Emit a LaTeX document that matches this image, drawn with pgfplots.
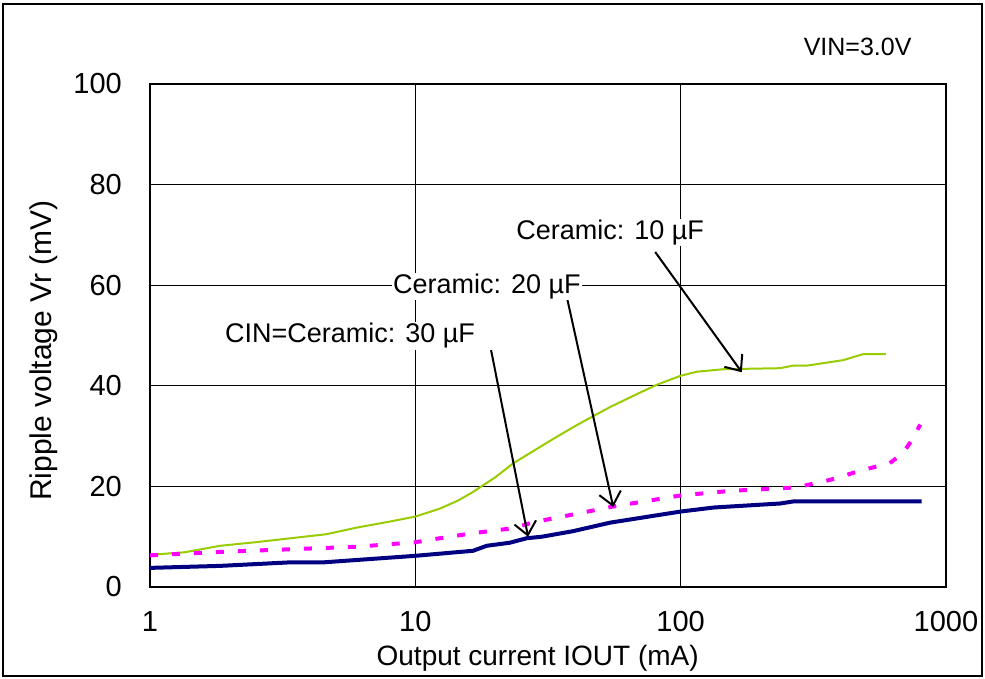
\documentclass[border=0pt]{standalone}
\usepackage{fontspec}
\setmainfont{Liberation Sans}
\usepackage{pgfplots}
\pgfplotsset{compat=1.18}
\usetikzlibrary{arrows.meta}
\definecolor{ygreen}{RGB}{153,204,0}
\definecolor{navyc}{RGB}{0,0,128}
\definecolor{magc}{RGB}{255,0,255}
\begin{document}
\begin{tikzpicture}
\useasboundingbox (-150pt,-91pt) rectangle (835pt,587pt);
\clip (-150pt,-91pt) rectangle (835pt,587pt);
\begin{axis}[
  at={(0pt,0pt)}, anchor=south west,
  scale only axis, width=796pt, height=503pt,
  xmode=log, xmin=1, xmax=1000, ymin=0, ymax=100,
  xtick={1,10,100,1000}, xticklabels={1,10,100,1000},
  ytick={0,20,40,60,80,100},
  log basis x=10,
  tick align=inside,
  major tick length=8pt, minor tick length=7pt,
  every tick/.style={black, line width=1pt},
  grid=major,
  major grid style={black, line width=0.8pt},
  axis line style={black, line width=1.6pt},
  /pgf/number format/assume math mode=true,
  tick label style={font=\fontsize{29}{32}\selectfont},
  xticklabel style={anchor=north, inner sep=0pt, yshift=-24pt},
  yticklabel style={anchor=east, inner sep=0pt, xshift=-28pt},
  xlabel={Output current IOUT (mA)},
  ylabel={Ripple voltage Vr (mV)},
  xlabel style={font=\fontsize{28}{32}\selectfont, at={(axis description cs:0.487,-0.141)}, anchor=center, inner sep=0pt},
  ylabel style={font=\fontsize{30}{34}\selectfont, at={(axis description cs:-0.134,0.47)}, anchor=center, inner sep=0pt},
  clip=false,
]
\addplot[ygreen, line width=2pt] coordinates {
(1,6.4) (1.35,6.9) (1.84,8.2) (2.5,8.9) (3.4,9.7) (4.63,10.5) (6,11.8) (8,13.0)
(10,14.0) (12.4,15.6) (14.5,17.2) (16.5,18.9) (20,21.8) (23.4,24.6) (27,26.6)
(33,29.4) (40,32.0) (54.3,35.8) (70,38.6) (81.3,40.2) (100,42.0) (115,42.8)
(145,43.3) (237,43.5) (265,44.0) (298,44.0) (410,45.1) (488,46.3) (594,46.3)
};
\addplot[magc, line width=4pt, dash pattern=on 8pt off 14pt] coordinates {
(1,6.3) (1.88,7.0) (3.37,7.5) (6.0,8.0) (10,8.9) (12.4,9.7) (16.5,10.7)
(23.4,11.7) (28,12.9) (40,14.5) (55.6,16.0) (100,18.2) (153,19.1) (273,19.8)
(366,21.3) (488,23.3) (613,24.6) (688,26.6) (750,29.5) (800,32.3)
};
\addplot[navyc, line width=4pt] coordinates {
(1,3.8) (1.84,4.2) (3.37,4.9) (4.5,4.9) (10,6.2) (16.5,7.2) (18.6,8.2)
(22.7,8.8) (26.3,9.7) (30,10.0) (39.3,11.1) (54.3,12.8) (100,15.0) (133,15.8)
(237,16.6) (265,17.0) (810,17.0)
};
\draw[black, line width=2pt, -{Straight Barb[length=13pt,width=22pt,line width=2pt]}] (axis cs:80.2,66.6) -- (axis cs:170,42.7);
\draw[black, line width=2pt, -{Straight Barb[length=13pt,width=22pt,line width=2pt]}] (axis cs:37.3,57.5) -- (axis cs:55.7,15.9);
\draw[black, line width=2pt, -{Straight Barb[length=13pt,width=22pt,line width=2pt]}] (axis cs:19.3,47.1) -- (axis cs:26.6,10.0);
\node[fill=white, inner sep=1pt, font=\fontsize{27}{30}\selectfont] at (axis cs:54.2,70.4) {Ceramic: 10 µF};
\node[fill=white, inner sep=1pt, font=\fontsize{27}{30}\selectfont] at (axis cs:18.6,59.8) {Ceramic: 20 µF};
\node[fill=white, inner sep=1pt, font=\fontsize{27}{30}\selectfont] at (axis cs:5.67,49.9) {CIN=Ceramic: 30 µF};
\node[font=\fontsize{25}{28}\selectfont] at (axis description cs:0.889,1.074) {VIN=3.0V};
\end{axis}
\draw[black, line width=1.6pt] (-147pt,-89pt) rectangle (832pt,583pt);
\end{tikzpicture}
\end{document}
